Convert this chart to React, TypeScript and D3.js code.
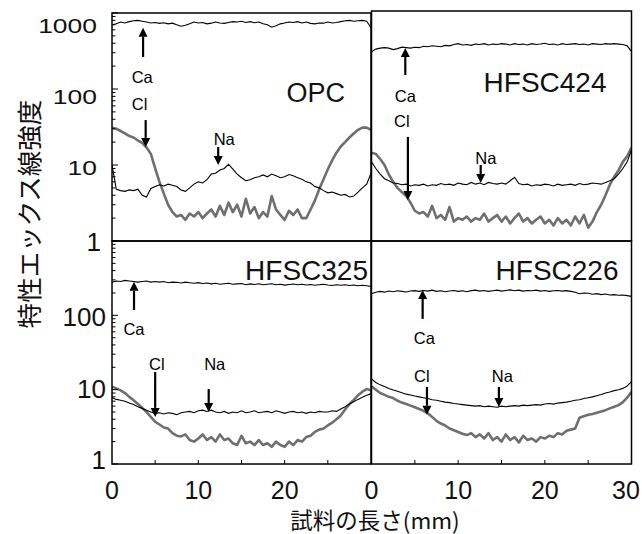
import React from "react";
import * as d3 from "d3";

// sample positions along the specimen (mm)
const positions = [
  0, 0.5, 1, 1.5, 2, 2.5, 3, 3.5, 4, 4.5,
  5, 5.5, 6, 6.5, 7, 7.5, 8, 8.5, 9, 9.5,
  10, 10.5, 11, 11.5, 12, 12.5, 13, 13.5, 14, 14.5,
  15, 15.5, 16, 16.5, 17, 17.5, 18, 18.5, 19, 19.5,
  20, 20.5, 21, 21.5, 22, 22.5, 23, 23.5, 24, 24.5,
  25, 25.5, 26, 26.5, 27, 27.5, 28, 28.5, 29, 29.5,
  30,
];

// OPC
const opcCa = [
  700, 720, 760, 740, 770, 790, 800, 780, 760, 740,
  750, 730, 745, 720, 735, 700, 670, 690, 720, 760,
  740, 750, 720, 735, 760, 740, 730, 750, 770, 760,
  780, 750, 770, 745, 760, 720, 700, 650, 680, 720,
  740, 760, 750, 770, 740, 760, 730, 720, 740, 735,
  760, 740, 750, 770, 790, 800, 780, 790, 800, 780,
  640,
];
const opcCl = [
  31, 30, 28, 26, 24, 23, 21, 19.5, 17, 14,
  9, 6, 4.2, 3, 2.4, 2.1, 2.2, 1.9, 2.3, 2.1,
  2.4, 2.0, 2.3, 2.6, 2.1, 2.9, 2.2, 3.2, 2.4, 3.0,
  2.1, 3.6, 2.3, 2.8, 2.0, 2.4, 2.1, 3.9, 2.6, 2.2,
  1.9, 2.5, 2.2, 2.6, 2.0, 2.0, 2.6, 3.4, 4.8, 6.5,
  8.8, 11.5, 14.5, 17.5, 20, 23, 26, 29, 31, 31,
  29,
];
const opcNa = [
  10, 4.8, 4.6, 4.5, 4.7, 4.6, 4.8, 4.0, 3.8, 4.9,
  5.2, 5.5, 5.3, 5.6, 5.4, 5.2, 4.7, 4.5, 5.0, 5.6,
  6.0, 5.8, 6.4, 7.6, 7.8, 8.6, 9.0, 10.2, 8.8, 7.6,
  6.8, 6.2, 6.4, 6.8, 7.0, 7.4, 7.0, 7.6, 7.2, 6.8,
  7.0, 7.5, 7.2, 6.8, 6.5, 6.0, 5.8, 5.2, 5.0, 4.6,
  4.3, 4.4, 4.2, 4.0, 4.1, 3.8, 3.9, 4.4, 5.0, 5.6,
  7.8,
];

// HFSC424
const h424Ca = [
  310, 335, 345, 350, 345, 330, 340, 355, 350, 345,
  355, 350, 365, 360, 370, 365, 360, 375, 370, 385,
  395, 380, 385, 375, 390, 385, 395, 380, 390, 385,
  395, 390, 380, 395, 385, 390, 380, 395, 385, 390,
  400, 385, 390, 380, 395, 385, 390, 395, 385, 390,
  380, 395, 390, 385, 395, 390, 395, 390, 385, 370,
  310,
];
const h424Cl = [
  14.5, 14, 12, 10, 7.5, 6, 5, 4.4, 3.9, 3.2,
  2.5, 2.3, 2.4, 2.1, 2.9, 2.0, 2.2, 1.9, 2.8, 1.8,
  2.0, 1.9, 2.1, 1.8, 2.0, 1.9, 2.3, 1.8, 2.0, 2.2,
  1.8, 2.1, 1.7, 2.0, 2.3, 1.8, 2.0, 1.7, 1.9, 2.1,
  1.7, 1.9, 1.6, 2.0, 1.7, 1.9, 1.6, 2.1, 1.7, 2.2,
  1.5, 1.8, 2.4, 3.0, 4.0, 5.5, 7.0, 8.5, 11, 13,
  17,
];
const h424Na = [
  11, 9, 7.6, 6.6, 6.2, 5.8, 5.7, 5.5, 5.6, 5.3,
  5.5, 5.4, 5.6, 5.3, 5.5, 5.4, 5.7, 5.5, 5.6, 5.4,
  5.8, 5.6, 5.5, 5.9, 5.6, 5.8, 5.5, 5.9, 5.7, 5.6,
  5.8, 5.6, 6.2, 6.9, 5.7, 5.5, 5.6, 5.3, 5.5, 5.4,
  5.6, 5.5, 5.3, 5.6, 5.4, 5.5, 5.6, 5.4, 5.7, 5.5,
  5.6, 5.8, 5.7, 5.6, 5.9, 6.2, 6.6, 7.6, 9, 11,
  15.7,
];

// HFSC325
const h325Ca = [
  280, 290, 285, 295, 290, 285, 280, 285, 290, 280,
  285, 280, 285, 275, 280, 278, 272, 280, 275, 270,
  275, 268, 272, 265, 270, 262, 266, 270, 262, 265,
  268, 258, 265, 260, 266, 258, 262, 266, 258, 262,
  255, 260, 264, 258, 262, 256, 260, 254, 258, 262,
  256, 252, 258, 254, 258, 252, 256, 250, 254, 250,
  245,
];
const h325Cl = [
  11, 10.4, 9.8, 9, 8, 7.2, 6.4, 5.7, 5.0, 4.3,
  3.7, 3.4, 3.1, 3.0, 2.6, 2.4, 2.35, 2.5, 2.1, 2.0,
  2.2, 2.5, 2.1, 2.3, 2.0, 2.5, 2.1, 2.2, 1.9, 1.8,
  2.4, 1.9, 2.0, 1.8, 2.1, 1.8, 1.9, 1.7, 2.0, 1.8,
  1.7, 2.0, 1.8, 2.1, 2.0, 2.3, 2.4, 2.7, 2.9, 3.0,
  3.3, 3.6, 4.0, 4.5, 5.4, 6.4, 7.3, 8.4, 9.4, 10.2,
  9.8,
];
const h325Na = [
  7.8, 7.4, 7.2, 7.0, 6.6, 6.3, 5.9, 5.6, 5.3, 5.0,
  4.8, 4.9, 4.7, 4.9, 4.8, 4.6, 4.9, 5.0, 5.1, 4.9,
  5.2, 5.3, 5.1, 5.3, 5.0, 4.9, 5.1, 4.8, 5.0, 4.9,
  5.2, 4.9, 5.0, 5.2, 4.9, 5.0, 5.1, 4.9, 5.2, 5.0,
  4.8, 5.0, 5.1, 4.9, 5.0, 4.8, 5.0, 4.9, 5.1, 5.0,
  5.0, 5.2, 5.1, 5.5, 5.9, 6.4, 6.9, 7.4, 7.9, 8.4,
  8.8,
];

// HFSC226
const h226Ca = [
  195, 205, 210, 205, 212, 208, 214, 210, 206, 212,
  215, 210, 216, 212, 218, 210, 214, 208, 212, 216,
  210, 214, 208, 215, 218, 212, 216, 210, 214, 218,
  212, 216, 220, 214, 218, 212, 216, 214, 218, 212,
  216, 210, 214, 216, 212, 215, 210, 205, 195, 200,
  198, 192, 196, 190, 194, 188, 190, 186, 188, 184,
  180,
];
const h226Cl = [
  11, 10, 9, 8.5, 8, 7.7, 7.1, 6.7, 6.4, 6.1,
  5.8, 5.5, 5.2, 4.8, 4.3, 3.8, 3.5, 3.3, 3.0, 2.85,
  2.7, 2.55, 2.45, 2.6, 2.3, 2.5, 2.2, 2.6, 2.1, 2.3,
  2.0, 2.5, 2.1, 2.3, 1.95, 2.4, 2.1, 2.2, 2.0, 2.3,
  2.2, 2.4, 2.3, 2.6, 2.5, 2.8, 2.9, 3.0, 4.2, 4.4,
  4.6, 4.7, 4.9, 5.1, 5.3, 5.6, 5.9, 6.2, 6.8, 7.8,
  9.4,
];
const h226Na = [
  14, 12.5, 11.6, 11, 10.4, 9.9, 9.5, 9.1, 8.7, 8.5,
  8.2, 8.0, 7.8, 7.6, 7.3, 7.2, 7.0, 6.8, 6.7, 6.5,
  6.4, 6.3, 6.2, 6.1, 6.0, 6.1, 5.9, 6.0, 5.9, 5.8,
  6.0, 5.9, 6.0, 6.1, 6.0, 6.2, 6.1, 6.2, 6.3, 6.2,
  6.4, 6.5, 6.4, 6.6, 6.7, 6.8, 7.0, 7.2, 7.3, 7.6,
  7.8, 8.0, 8.3, 8.6, 9.0, 9.3, 9.7, 10.0, 10.4, 11.2,
  12.8,
];

const xTickLabels = [0, 10, 20, 30];
const yTickLabelsTop = [10, 100, 1000];
const yTickLabelsBottom = [1, 10, 100];

// annotation anchors: [mm, value] for labels; [mm, tail value, tip value] for arrows
const opcNotes = { ca: [3.5, 144], caA: [3.6, 264, 640], cl: [3.2, 63.5], clA: [3.9, 39, 17.3], na: [13, 22], naA: [12.3, 17.3, 10] };
const h424Notes = { ca: [3.9, 81], caA: [3.9, 153, 346], cl: [3.5, 37.9], clA: [4.2, 23.4, 3.46], na: [13.2, 12.4], naA: [12.6, 10, 5.8] };
const h325Notes = { ca: [2.55, 65.6], caA: [2.55, 118, 282], cl: [5.2, 22.2], clA: [5.0, 17.3, 4.3], na: [11.9, 22.2], naA: [11.2, 10.2, 5.0] };
const h226Notes = { ca: [6.1, 49.6], caA: [5.9, 89.5, 220], cl: [5.8, 15.3], clA: [6.4, 10.9, 4.6], na: [15.1, 15.3], naA: [14.7, 10.9, 5.85] };

const FONT = "'Liberation Sans', Arial, Helvetica, sans-serif";
const CJK = "'Noto Sans CJK JP', 'Noto Sans CJK SC', sans-serif";
const GRAY = "#6f6f6f";

function Arrow({ x, y0, y1 }: { x: number; y0: number; y1: number }) {
  const dir = y1 > y0 ? 1 : -1;
  const hl = 9;
  const hw = 4.5;
  const base = y1 - dir * hl;
  return (
    <g>
      <line x1={x} y1={y0} x2={x} y2={base} stroke="#000" strokeWidth={2.2} />
      <polygon points={`${x - hw},${base} ${x + hw},${base} ${x},${y1}`} fill="#000" />
    </g>
  );
}

export default function App() {
  const W = 642;
  const H = 534;
  const xL = d3.scaleLinear().domain([0, 30]).range([112, 371]);
  const xR = d3.scaleLinear().domain([0, 30]).range([371.5, 631.5]);
  const yT = d3.scaleLog().domain([1, 1000]).range([241, 13]);
  const yB = d3.scaleLog().domain([1, 1000]).range([464, 241]);
  const yTopLabel = d3.scaleLog().domain([10, 1000]).range([167, 25]);
  const yBotLabel = d3.scaleLog().domain([1, 100]).range([460, 317]);

  const panels = [
    { id: "opc", x: xL, y: yT, top: 13, ca: opcCa, cl: opcCl, na: opcNa, notes: opcNotes, title: "OPC", tRight: 26, tBase: 102, tSize: 27 },
    { id: "h424", x: xR, y: yT, top: 11, ca: h424Ca, cl: h424Cl, na: h424Na, notes: h424Notes, title: "HFSC424", tRight: 25, tBase: 92, tSize: 28 },
    { id: "h325", x: xL, y: yB, top: 241, ca: h325Ca, cl: h325Cl, na: h325Na, notes: h325Notes, title: "HFSC325", tRight: 3, tBase: 280, tSize: 28 },
    { id: "h226", x: xR, y: yB, top: 241, ca: h226Ca, cl: h226Cl, na: h226Na, notes: h226Notes, title: "HFSC226", tRight: 13, tBase: 280, tSize: 28 },
  ];

  const yTicks = yT.ticks();
  const xMinor = [5, 10, 15, 20, 25];

  return (
    <svg width={W} height={H} style={{ position: "absolute", left: 0, top: 0, background: "#fff" }} fontFamily={FONT}>
      <rect x={0} y={0} width={W} height={H} fill="#fff" />
      <defs>
        {panels.map((p) => {
          const [x0, x1] = p.x.range();
          const [yb] = p.y.range();
          return (
            <clipPath id={`clip-${p.id}`} key={p.id}>
              <rect x={x0} y={p.top} width={x1 - x0} height={yb - p.top} />
            </clipPath>
          );
        })}
      </defs>

      {panels.map((p) => {
        const [x0, x1] = p.x.range();
        const [yb] = p.y.range();
        const line = d3
          .line<number>()
          .x((_, i) => p.x(positions[i]))
          .y((d) => p.y(d));
        const n = p.notes;
        return (
          <g key={p.id}>
            <g clipPath={`url(#clip-${p.id})`}>
              <path d={line(p.cl) || ""} fill="none" stroke={GRAY} strokeWidth={2.6} strokeLinejoin="round" />
              <path d={line(p.na) || ""} fill="none" stroke="#000" strokeWidth={1.1} />
              <path d={line(p.ca) || ""} fill="none" stroke="#000" strokeWidth={1.1} />
            </g>
            <g fontSize={16.5} textAnchor="middle" dominantBaseline="central" fill="#000">
              <text x={p.x(n.ca[0])} y={p.y(n.ca[1])}>Ca</text>
              <text x={p.x(n.cl[0])} y={p.y(n.cl[1])}>Cl</text>
              <text x={p.x(n.na[0])} y={p.y(n.na[1])}>Na</text>
            </g>
            <Arrow x={p.x(n.caA[0])} y0={p.y(n.caA[1])} y1={p.y(n.caA[2])} />
            <Arrow x={p.x(n.clA[0])} y0={p.y(n.clA[1])} y1={p.y(n.clA[2])} />
            <Arrow x={p.x(n.naA[0])} y0={p.y(n.naA[1])} y1={p.y(n.naA[2])} />
            <text x={x1 - p.tRight} y={p.tBase} textAnchor="end" fontSize={p.tSize} fill="#111">
              {p.title}
            </text>
            <rect x={x0} y={p.top} width={x1 - x0} height={yb - p.top} fill="none" stroke="#000" strokeWidth={1.5} />
          </g>
        );
      })}

      {[yT, yB].map((ys, k) => (
        <g key={`yt${k}`}>
          {yTicks.map((t) => {
            const major = Math.abs(Math.log10(t) - Math.round(Math.log10(t))) < 1e-9;
            const yy = ys(t);
            return <line key={t} x1={112} x2={112 + (major ? 6 : 3.5)} y1={yy} y2={yy} stroke="#000" strokeWidth={1} />;
          })}
        </g>
      ))}

      {[xL, xR].map((xs, k) => (
        <g key={`xt${k}`}>
          {xMinor.map((t) => (
            <line key={t} x1={xs(t)} x2={xs(t)} y1={464} y2={460} stroke="#000" strokeWidth={1} />
          ))}
        </g>
      ))}

      {yTickLabelsTop.map((v) => (
        <text
          key={`tl${v}`}
          transform={`translate(97,${yTopLabel(v) + 7.5}) scale(1.26,1)`}
          textAnchor="end"
          fontSize={21}
          fill="#111"
        >
          {v}
        </text>
      ))}
      <text x={101} y={yT(1) + 9.5} textAnchor="end" fontSize={26} fill="#111">
        1
      </text>
      {yTickLabelsBottom.map((v) => (
        <text key={`bl${v}`} x={106} y={yBotLabel(v) + 9.3} textAnchor="end" fontSize={26} fill="#111">
          {v}
        </text>
      ))}

      {xTickLabels
        .filter((v) => v < 30)
        .map((v) => (
          <text key={`xl${v}`} x={xL(v)} y={499} textAnchor="middle" fontSize={25} fill="#111">
            {v}
          </text>
        ))}
      {xTickLabels.map((v) => (
        <text
          key={`xr${v}`}
          x={Math.min(xR(v), W - 16)}
          y={499}
          textAnchor="middle"
          fontSize={25}
          fill="#111"
        >
          {v}
        </text>
      ))}

      <text x={375} y={529} textAnchor="middle" fontSize={22.5} fontFamily={CJK} fill="#111">
        試料の長さ(mm)
      </text>
      <text
        transform="translate(27,214) rotate(-90)"
        textAnchor="middle"
        dominantBaseline="central"
        fontSize={25.5}
        fontFamily={CJK}
        fill="#111"
      >
        特性エックス線強度
      </text>
    </svg>
  );
}
